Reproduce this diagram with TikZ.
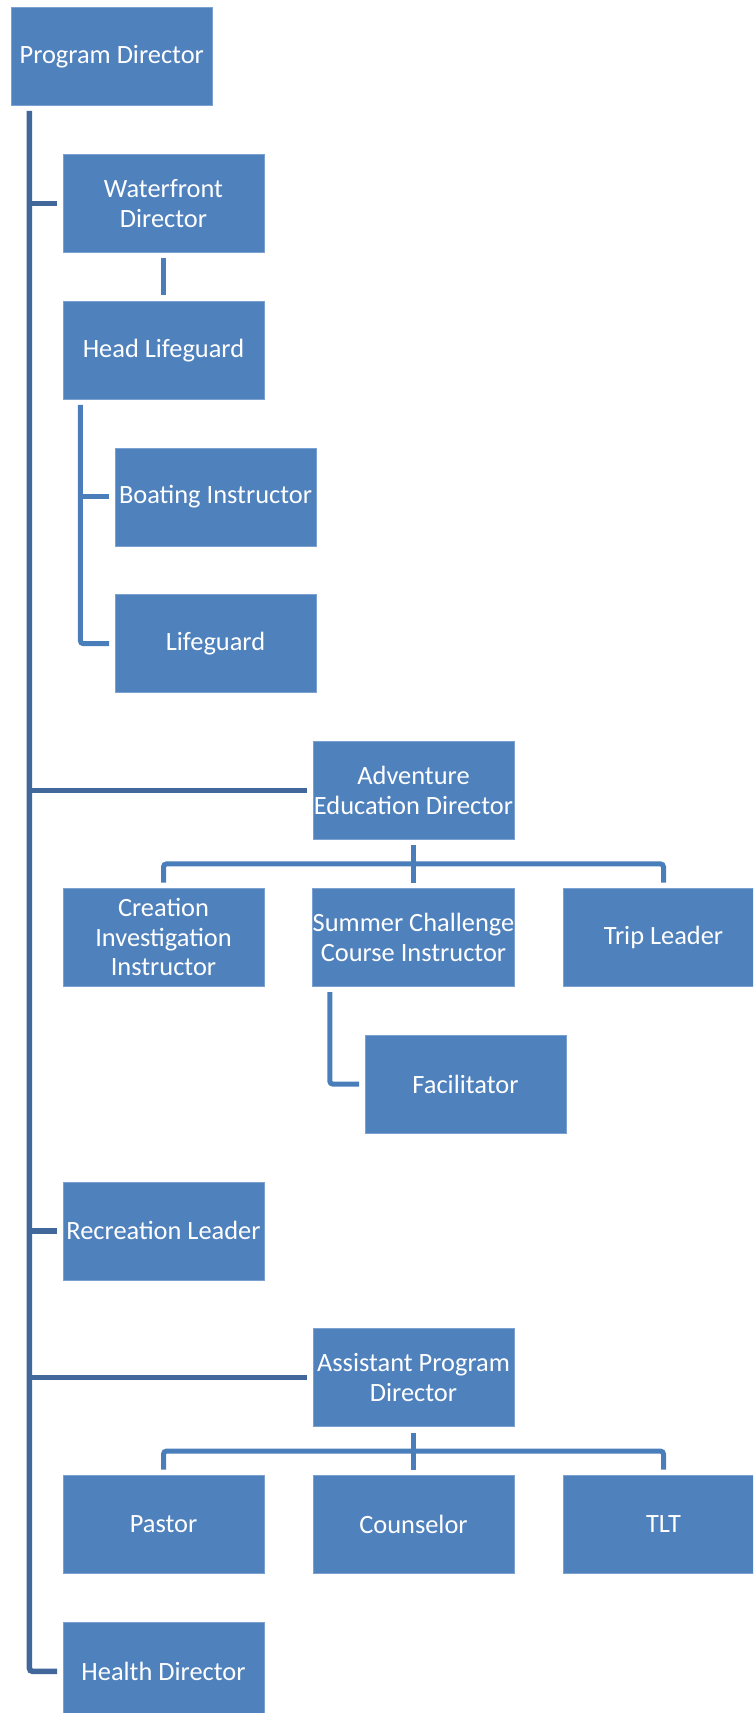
\documentclass[tikz,border=0pt]{standalone}
\usepackage{fontspec}
\setmainfont{Carlito}
\usetikzlibrary{calc}
\definecolor{boxfill}{HTML}{4F81BD}
\definecolor{boxedge}{HTML}{7BA0D2}
\definecolor{trunkcol}{HTML}{41679B}
\definecolor{subcol}{HTML}{4A7EBB}
\begin{document}
\begin{tikzpicture}[x=1pt,y=-1pt,
  orgbox/.style={rectangle, fill=boxfill, draw=boxedge, line width=0.6pt,
    minimum width=201pt, minimum height=98pt, inner sep=0pt, align=center,
    text=white, font=\fontsize{26.4}{29.5}\selectfont},
  trunk/.style={draw=trunkcol, line width=5.5pt, rounded corners=3pt},
  conn/.style={draw=subcol, line width=5pt, rounded corners=3pt}]
\useasboundingbox (0,0) rectangle (753,1713);
\clip (0,0) rectangle (753,1713);

\node[orgbox] (pd)  at (111.75,56.5)  {Program Director};
\node[orgbox] (wd)  at (163.5,203.3)  {Waterfront\\Director};
\node[orgbox] (hl)  at (163.5,350.1)  {Head Lifeguard};
\node[orgbox] (bi)  at (215.5,496.9)  {Boating Instructor};
\node[orgbox] (lg)  at (215.5,643.7)  {Lifeguard};
\node[orgbox] (aed) at (413.5,790.5)  {Adventure\\Education Director};
\node[orgbox] (cii) at (163.5,937.3)  {Creation\\Investigation\\Instructor};
\node[orgbox] (sci) at (413.5,937.3)  {Summer Challenge\\Course Instructor};
\node[orgbox] (tl)  at (663.5,937.3)  {Trip Leader};
\node[orgbox] (fac) at (465.5,1084.1) {Facilitator};
\node[orgbox] (rl)  at (163.5,1230.9) {Recreation Leader};
\node[orgbox] (apd) at (413.5,1377.7) {Assistant Program\\Director};
\node[orgbox] (pa)  at (163.5,1524.5) {Pastor};
\node[orgbox] (co)  at (413.5,1524.5) {Counselor};
\node[orgbox] (tlt) at (663.5,1524.5) {TLT};
\node[orgbox] (hd)  at (163.5,1671.3) {Health Director};

% main trunk
\coordinate (t0) at ($(pd.south west)+(18.5,5)$);
\draw[trunk] (t0) |- ($(hd.west)+(-5.5,0)$);
\draw[trunk] (t0 |- wd.west) -- ($(wd.west)+(-5.5,0)$);
\draw[trunk] (t0 |- aed.west) -- ($(aed.west)+(-5.5,0)$);
\draw[trunk] (t0 |- rl.west) -- ($(rl.west)+(-5.5,0)$);
\draw[trunk] (t0 |- apd.west) -- ($(apd.west)+(-5.5,0)$);

% waterfront branch
\draw[conn] ($(wd.south)+(0,5.5)$) -- ($(hl.north)+(0,-5.5)$);
\coordinate (h0) at ($(hl.south west)+(17.7,5.5)$);
\draw[conn] (h0) |- ($(lg.west)+(-5.5,0)$);
\draw[conn] (h0 |- bi.west) -- ($(bi.west)+(-5.5,0)$);

% adventure branch
\coordinate (am) at ($(aed.south)!0.5!(sci.north)$);
\draw[conn] ($(aed.south)+(0,5.5)$) -- ($(sci.north)+(0,-5.5)$);
\draw[conn] ($(cii.north)+(0,-5.5)$) |- (am) -| ($(tl.north)+(0,-5.5)$);
\coordinate (s0) at ($(sci.south west)+(17.4,5.5)$);
\draw[conn] (s0) |- ($(fac.west)+(-5.5,0)$);

% assistant branch
\coordinate (pm) at ($(apd.south)!0.5!(co.north)$);
\draw[conn] ($(apd.south)+(0,5.5)$) -- ($(co.north)+(0,-5.5)$);
\draw[conn] ($(pa.north)+(0,-5.5)$) |- (pm) -| ($(tlt.north)+(0,-5.5)$);
\end{tikzpicture}
\end{document}
